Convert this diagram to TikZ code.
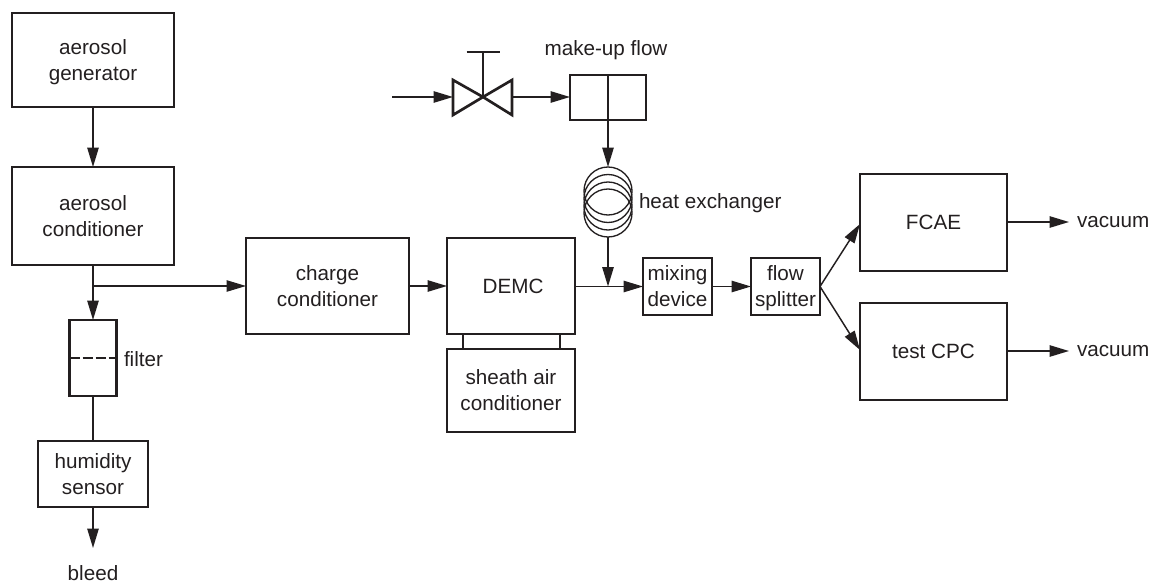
\documentclass[tikz,border=0pt]{standalone}
\usepackage{fontspec}
\setmainfont{Liberation Sans}
\usetikzlibrary{arrows.meta}
\definecolor{ink}{HTML}{231F20}
\newcommand{\nodepth}[1]{\raisebox{0pt}[\height][0pt]{#1}}
\tikzset{
  boxn/.style={draw=ink,line width=1.1pt,inner sep=0pt,outer sep=0pt,align=center,text=ink,font=\fontsize{15.5}{19.5}\selectfont},
  thickn/.style={boxn,line width=2.1pt},
  lab/.style={inner sep=0pt,outer sep=0pt,text=ink,align=center,font=\fontsize{15.5}{19.5}\selectfont},
  conn/.style={draw=ink,line width=1.1pt},
  flow/.style={conn,-{Triangle[length=14.5pt,width=8.5pt,color=ink]},shorten >=0pt},
  coil/.style={draw=ink,line width=1pt},
  valvel/.style={draw=ink,line width=2pt,line join=miter}
}
\begin{document}
\begin{tikzpicture}[x=0.75pt,y=-0.75pt]
\useasboundingbox (0,0) rectangle (1149,585);
% boxes
\node[boxn,minimum width=121.5pt,minimum height=70.5pt] (gen) at (93,60) {aerosol\\\nodepth{generator}};
\node[boxn,minimum width=121.5pt,minimum height=73.5pt] (cond) at (93,216) {aerosol\\conditioner};
\node[thickn,minimum width=35pt,minimum height=57pt] (filt) at (93,358) {};
\node[boxn,minimum width=82.5pt,minimum height=49.5pt] (hum) at (93,474) {humidity\\sensor};
\node[boxn,minimum width=122.25pt,minimum height=72pt] (chg) at (327.5,286) {charge\\conditioner};
\node[boxn,minimum width=96pt,minimum height=72pt] (demc) at (511,286) {\hspace*{3pt}DEMC};
\node[boxn,minimum width=96pt,minimum height=62.25pt] (sheath) at (511,390.5) {sheath air\\conditioner};
\node[thickn,minimum width=57pt,minimum height=33.75pt] (mk) at (608,97.5) {};
\node[boxn,minimum width=51.75pt,minimum height=42.75pt] (mix) at (677.5,286.5) {mixing\\device};
\node[boxn,minimum width=51.75pt,minimum height=42.75pt] (spl) at (785.5,286.5) {flow\\\nodepth{splitter}};
\node[boxn,minimum width=110.25pt,minimum height=72.75pt] (fcae) at (933.5,222.5) {FCAE};
\node[boxn,minimum width=110.25pt,minimum height=72.75pt] (cpc) at (933.5,351.5) {test CPC};
% labels
\node[lab] (ltbleed) at (93,573.5) {bleed};
\node[lab,anchor=west] (ltfilter) at (124,359) {filter};
\node[lab] (ltmk) at (606,50.5) {make-up flow};
\node[lab,anchor=west] (lthx) at (639,203) {heat exchanger};
\node[lab,anchor=west] (ltv1) at (1077,222) {vacuum};
\node[lab,anchor=west] (ltv2) at (1077,351) {vacuum};
% filter and make-up inner lines
\draw[valvel,dash pattern=on 7.5pt off 2.25pt] (filt.west) -- (filt.east);
\draw[conn,line width=1.6pt] (mk.north) -- (mk.south);
% valve
\coordinate (vc) at (483,97);
\coordinate (vl) at (453,97);
\coordinate (vr) at (512,97);
\coordinate (vtop) at (483,52);
\coordinate (in) at (392,97);
\draw[valvel] (vc) -- (453,80) -- (453,115) -- cycle;
\draw[valvel] (vc) -- (512,80) -- (512,115) -- cycle;
\draw[valvel] (vc) -- (vtop);
\draw[valvel] (466.5,52) -- (499.5,52);
% coil
\foreach \cy [count=\i] in {191,198.5,206,213}{
  \draw[coil] (608,\cy) circle (24);
  \coordinate (c\i) at (608,\cy);
}
\coordinate (coiltop) at (608,167);
\coordinate (coilbot) at (608,237);
% connectors
\draw[flow] (gen) -- (cond);
\draw[flow] (cond) -- (filt);
\coordinate (j1) at (93,286);
\draw[flow,line width=0.9pt] (j1) -- (chg.west);
\draw[conn] (filt) -- (hum);
\coordinate (bleedtip) at (93,548);
\draw[flow] (hum) -- (bleedtip);
\draw[flow] (chg) -- (demc);
\draw[conn] (demc.south west) ++(16,0) coordinate (s1) -- (sheath.north west -| s1);
\draw[conn] (demc.south east) ++(-15,0) coordinate (s2) -- (sheath.north east -| s2);
\draw[flow] (in) -- (vl);
\draw[flow] (vr) -- (mk.west |- vr);
\draw[flow] (mk.south) -- (coiltop);
\coordinate (j2) at (608,286.5);
\draw[flow] (coilbot) -- (j2);
\draw[flow] (demc.east |- mix) -- (mix.west);
\draw[flow] (mix) -- (spl);
\coordinate (s3) at (820,286.5);
\coordinate (f3) at (860,224);
\coordinate (c3) at (860,350);
\draw[flow] (s3) -- (f3);
\draw[flow] (s3) -- (c3);
\coordinate (v1) at (1069,222);
\coordinate (v2) at (1069,351);
\draw[flow] (fcae.east |- v1) -- (v1);
\draw[flow] (cpc.east |- v2) -- (v2);
\end{tikzpicture}
\end{document}
